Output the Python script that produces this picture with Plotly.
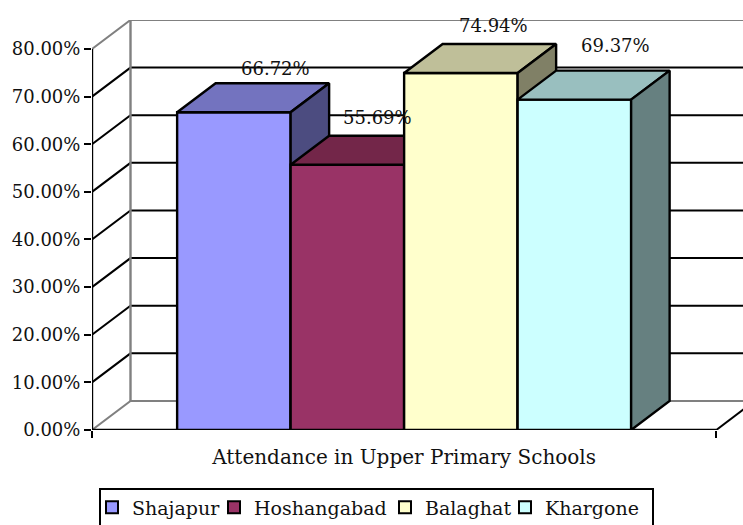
import plotly.graph_objects as go

# --- data ---
districts = ["Shajapur", "Hoshangabad", "Balaghat", "Khargone"]
attendance = [66.72, 55.69, 74.94, 69.37]
category_label = "Attendance in Upper Primary Schools"
y_ticks = [0, 10, 20, 30, 40, 50, 60, 70, 80]

# --- style ---
front_colors = ["#9999FF", "#993366", "#FFFFCC", "#CCFFFF"]
top_colors = ["#7373BF", "#732649", "#BFBF99", "#99BFBF"]
side_colors = ["#4C4C80", "#4C1933", "#808066", "#668080"]
label_shift = [(42, 44), (30, 47), (33, 48), (41, 54)]
legend_left_px = [92, 214, 385, 505]
FONT = "DejaVu Serif"
FS = 18
W, H = 743, 525
L, T, B = 92, 20, 95
PX_PER_PCT = 4.763
BAR_PX = 113.5
DX = 38.5 / BAR_PX          # depth in category units
DY = 29 / PX_PER_PCT        # depth in % units
GAP = 0.75                  # gap either side of the bars
X_END = GAP * 2 + len(districts)
X_MAX = (W - L) / BAR_PX
Y_MAX = (H - T - B) / PX_PER_PCT
PLOT_W, PLOT_H = W - L, H - T - B
GREY = "#808080"

fig = go.Figure()


def line(xs, ys, color, width=2):
    fig.add_trace(go.Scatter(x=xs, y=ys, mode="lines", showlegend=False, hoverinfo="skip",
                             line=dict(color=color, width=width), cliponaxis=False))


def face(xs, ys, color):
    fig.add_trace(go.Scatter(x=xs, y=ys, mode="lines", fill="toself", fillcolor=color,
                             showlegend=False, hoverinfo="skip", cliponaxis=False,
                             line=dict(color="black", width=2.4)))


# walls: gridlines along side wall and back wall
for t in y_ticks:
    col = GREY if t in (0, 80) else "black"
    line([0, DX, X_MAX + 1], [t, t + DY, t + DY], col)
# back-wall vertical edge
line([DX, DX], [DY, 80 + DY], GREY, 2.4)
# floor right edge and front axis
line([X_END, X_END + DX], [0, DY], "black")
line([0, 0], [0, 80], "black", 2.4)
line([0, X_END], [0, 0], "black", 2.4)

# bars
for i, (v, fc, tc, sc) in enumerate(zip(attendance, front_colors, top_colors, side_colors)):
    x0, x1 = GAP + i, GAP + i + 1
    face([x0, x1, x1, x0, x0], [0, 0, v, v, 0], fc)
    face([x0, x1, x1 + DX, x0 + DX, x0], [v, v, v + DY, v + DY, v], tc)
    face([x1, x1 + DX, x1 + DX, x1, x1], [0, DY, v + DY, v, 0], sc)

# legend entries: one legend per district so each can sit where the reference has it
legends = {}
for i, (name, fc, left) in enumerate(zip(districts, front_colors, legend_left_px)):
    key = "legend" if i == 0 else f"legend{i + 1}"
    fig.add_trace(go.Scatter(x=[None], y=[None], mode="markers", name=name, legend=key,
                             marker=dict(symbol="square", size=14, color=fc,
                                         line=dict(color="black", width=2))))
    legends[key] = dict(orientation="h", x=(left - L) / PLOT_W, xanchor="left",
                        y=(H - B - 507.5) / PLOT_H, yanchor="middle",
                        borderwidth=0, bgcolor="rgba(0,0,0,0)", itemsizing="constant",
                        font=dict(family=FONT, size=19))

annotations = []
for i, (v, s) in enumerate(zip(attendance, label_shift)):
    annotations.append(dict(x=GAP + i + 0.5, y=v, xref="x", yref="y", text=f"{v:.2f}%",
                            showarrow=False, xshift=s[0], yshift=s[1],
                            font=dict(family=FONT, size=FS, color="#111")))

fig.update_layout(
    width=W, height=H, autosize=False,
    margin=dict(l=L, r=0, t=T, b=B, pad=0, autoexpand=False),
    paper_bgcolor="white", plot_bgcolor="white",
    font=dict(family=FONT, size=FS, color="#111"),
    annotations=annotations,
    shapes=[dict(type="rect", xref="paper", yref="paper",
                 x0=(100 - L) / PLOT_W, x1=(653 - L) / PLOT_W,
                 y0=(H - B - 532) / PLOT_H, y1=(H - B - 489) / PLOT_H,
                 line=dict(color="black", width=2), fillcolor="white", layer="below")],
    xaxis=dict(range=[0, X_MAX], showgrid=False, zeroline=False, showline=False,
               tickmode="array", tickvals=[X_END / 2], ticktext=[category_label],
               ticks="outside", ticklen=0, ticklabelstandoff=9,
               tickfont=dict(family=FONT, size=20, color="#111"),
               minor=dict(tickmode="array", tickvals=[0, X_END], ticks="outside",
                          ticklen=7, tickwidth=2, tickcolor="black", showgrid=False)),
    yaxis=dict(range=[0, Y_MAX], showgrid=False, zeroline=False, showline=False,
               tickmode="array", tickvals=y_ticks,
               ticktext=[f"{t:.2f}%" for t in y_ticks],
               ticks="outside", ticklen=7, tickwidth=2, tickcolor="black"),
)
fig.update_layout(**legends)

fig.write_html("out.html", config=dict(displayModeBar=False),
               post_script="document.body.style.margin='0';")
